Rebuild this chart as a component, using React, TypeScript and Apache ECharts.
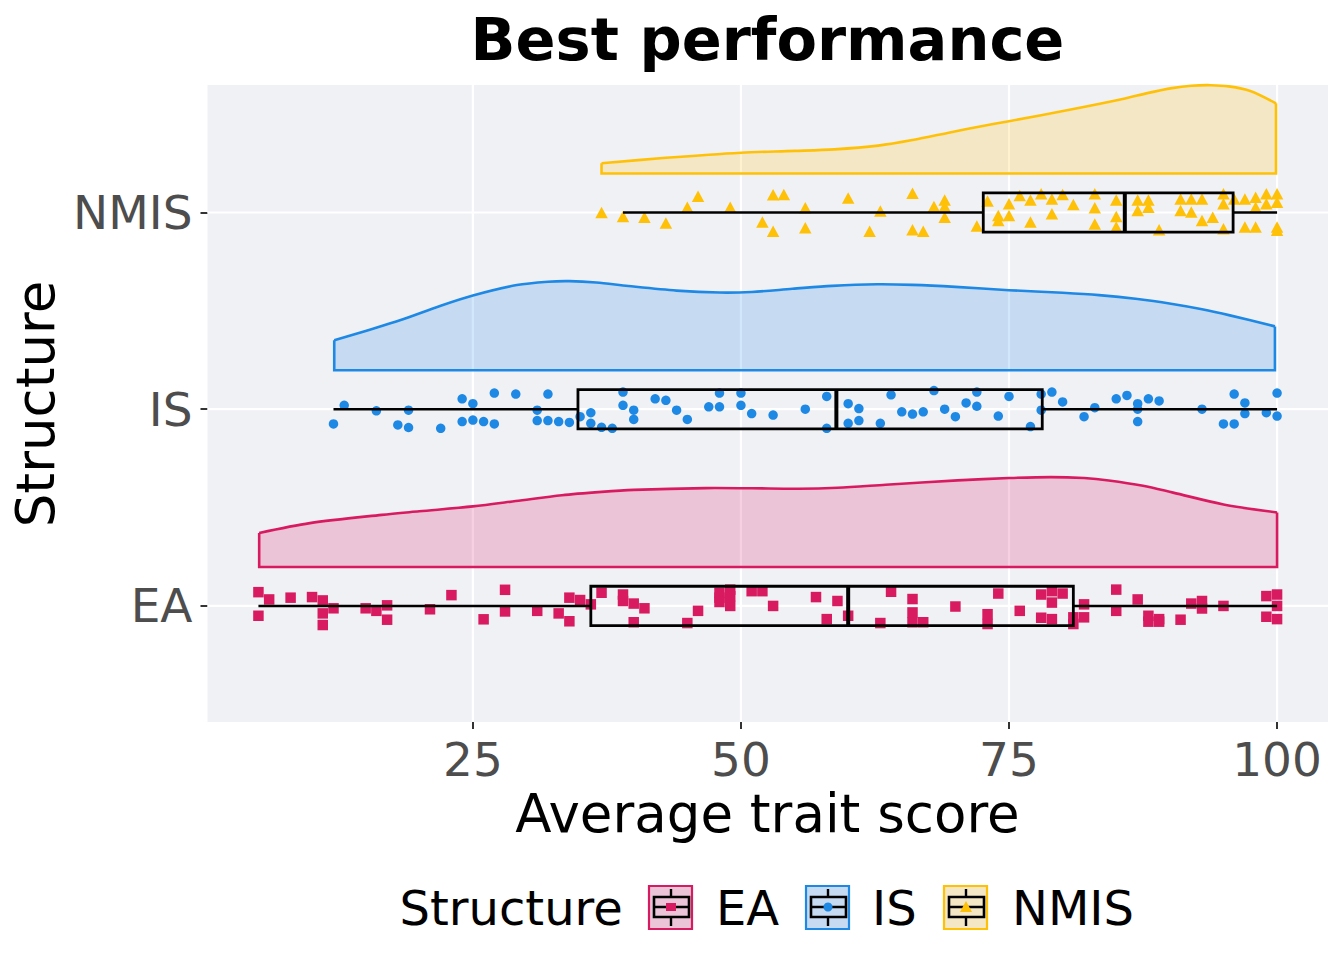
import React, { useEffect, useRef } from "react";
import * as echarts from "echarts";

const CATEGORIES = ["EA", "IS", "NMIS"];
const COLORS = ["#D81B60", "#1E88E5", "#FFC107"];
const FILLS = ["rgba(216,27,96,0.2)", "rgba(30,136,229,0.2)", "rgba(255,193,7,0.2)"];
const SYMBOLS = ["rect", "circle", "triangle"];
const X_TICKS = [25, 50, 75, 100];
const Y_TICKS = [1, 2, 3];

// Individual scores and their vertical jitter (category units)
const EA_SCORE = [5, 6, 8, 10, 11, 12, 5, 11, 11, 15, 16, 17, 17, 21, 23, 28, 28, 26, 31, 33, 34, 34, 35, 36, 37, 39, 39, 40, 41, 40, 45, 46, 48, 49, 49, 48, 51, 52, 53, 57, 59, 58, 60, 63, 64, 66, 66, 66, 67, 70, 73, 73, 74, 76, 78, 78, 79, 80, 79, 79, 81, 81, 82, 82, 85, 85, 87, 88, 89, 91, 92, 93, 93, 95, 99, 100, 99, 100, 100, 88, 89, 49, 48];
const EA_JITTER = [0.07, 0.033, 0.042, 0.045, 0.028, -0.012, -0.05, -0.038, -0.097, -0.012, -0.025, 0.003, -0.07, -0.017, 0.055, 0.082, -0.028, -0.068, -0.025, -0.038, -0.078, 0.042, 0.03, 0.008, 0.067, 0.058, 0.025, 0.012, -0.012, -0.083, -0.087, -0.025, 0.067, 0.083, 0, 0.042, 0.075, 0.075, 0, 0.045, 0.025, -0.067, -0.05, -0.087, 0.072, 0.035, -0.033, -0.083, -0.083, -0.003, -0.042, -0.092, 0.063, -0.025, 0.058, -0.06, 0.075, 0.063, 0.017, -0.067, -0.058, -0.092, 0.008, -0.058, 0.083, -0.025, 0.033, -0.05, -0.067, -0.07, 0.012, 0.025, -0.013, 0, 0.05, 0.058, -0.055, -0.067, 0, -0.08, -0.08, 0.05, 0.02];

const IS_SCORE = [12, 13, 16, 18, 19, 19, 22, 24, 24, 25, 25, 26, 27, 27, 29, 31, 31, 32, 32, 33, 34, 35, 36, 36, 37, 38, 39, 39, 40, 40, 42, 43, 44, 45, 47, 48, 48, 50, 50, 51, 53, 56, 58, 58, 60, 60, 61, 61, 63, 64, 65, 66, 67, 68, 69, 70, 71, 72, 72, 74, 75, 77, 78, 78, 79, 80, 82, 83, 85, 86, 87, 87, 88, 89, 93, 95, 96, 96, 97, 97, 99, 100, 100, 87];
const IS_JITTER = [-0.075, 0.02, -0.008, -0.08, -0.005, -0.093, -0.097, 0.053, -0.063, 0.028, -0.055, -0.063, 0.082, -0.075, 0.077, -0.005, -0.058, 0.077, -0.058, -0.063, -0.067, -0.038, -0.018, -0.072, -0.092, -0.097, 0.087, 0.02, -0.005, -0.052, 0.053, 0.045, -0.005, -0.052, 0.012, 0.012, 0.082, 0.082, 0.02, -0.022, -0.03, 0, 0.065, -0.097, 0.028, -0.072, 0.003, -0.058, -0.072, 0.073, -0.013, -0.025, -0.013, 0.095, 0, -0.038, 0.032, 0.087, 0.015, -0.035, 0.065, -0.088, 0.077, -0.005, 0.087, 0.037, -0.038, 0.008, 0.053, 0.07, 0.028, -0.063, 0.053, 0.042, 0, -0.075, -0.075, 0.077, 0.032, -0.022, -0.018, 0.082, -0.035, 0];

const NMIS_SCORE = [37, 39, 41, 43, 45, 46, 49, 52, 53, 54, 53, 56, 56, 60, 62, 63, 66, 66, 67, 68, 69, 69, 69, 72, 73, 74, 75, 75, 76, 77, 77, 78, 79, 79, 80, 81, 83, 83, 83, 85, 85, 85, 87, 87, 88, 88, 89, 91, 91, 92, 92, 93, 93, 94, 95, 95, 95, 96, 97, 97, 98, 98, 98, 99, 99, 100, 100, 100, 100, 74];
const NMIS_JITTER = [0, -0.02, -0.024, -0.054, 0.027, 0.083, 0.027, -0.049, 0.09, 0.091, -0.095, 0.024, -0.078, 0.074, -0.096, 0.007, 0.098, -0.088, -0.095, 0.03, 0.064, -0.024, 0.03, -0.069, 0.058, -0.041, 0.044, -0.015, 0.086, 0.064, -0.049, 0.095, 0.069, -0.007, 0.091, 0.041, 0.095, 0.024, -0.058, 0.064, -0.02, -0.074, 0.064, 0.01, 0.064, 0.027, -0.088, 0.069, 0.01, 0.069, 0.002, 0.069, -0.041, -0.024, 0.095, 0.044, -0.083, 0.069, 0.069, -0.074, 0.078, 0.027, -0.074, 0.095, 0.044, 0.095, 0.052, -0.074, -0.09, -0.015];

// Density curves: [score, height above the cloud baseline]
const EA_DENSITY = [[5.07, 0.173], [9.8, 0.223], [16.5, 0.265], [20, 0.283], [25, 0.308], [29, 0.335], [33.3, 0.365], [37, 0.382], [40, 0.392], [46.7, 0.401], [51, 0.4], [55.4, 0.398], [59, 0.403], [63.5, 0.418], [70.2, 0.44], [75, 0.452], [78.9, 0.457], [82, 0.452], [84.3, 0.44], [87.5, 0.413], [90.3, 0.378], [95, 0.318], [100, 0.277]];
const IS_DENSITY = [[12.07, 0.152], [15, 0.2], [18.2, 0.254], [22, 0.328], [25, 0.38], [29.1, 0.433], [32, 0.45], [34, 0.453], [36.5, 0.446], [39.5, 0.428], [44, 0.405], [48, 0.395], [51, 0.398], [54.8, 0.414], [58.5, 0.429], [62.7, 0.437], [66, 0.434], [70, 0.424], [75, 0.407], [80, 0.394], [83.4, 0.382], [87, 0.362], [90.1, 0.338], [93, 0.31], [95.6, 0.279], [99.8, 0.223]];
const NMIS_DENSITY = [[37, 0.052], [43, 0.08], [50, 0.106], [55, 0.115], [58.7, 0.123], [62.8, 0.142], [66, 0.17], [69.6, 0.21], [72.3, 0.239], [75, 0.266], [81, 0.328], [85.6, 0.379], [88, 0.41], [90.2, 0.434], [92, 0.446], [93.8, 0.449], [95.5, 0.443], [97.5, 0.42], [99.9, 0.357]];

// Boxplot stats: [lower whisker, Q1, median, Q3, upper whisker]
const EA_BOX = [5, 36, 60, 81, 100];
const IS_BOX = [12, 34.8, 58.9, 78.1, 100];
const NMIS_BOX = [39, 72.6, 85.8, 95.9, 100];

const SCORES = [EA_SCORE, IS_SCORE, NMIS_SCORE];
const JITTERS = [EA_JITTER, IS_JITTER, NMIS_JITTER];
const DENSITIES = [EA_DENSITY, IS_DENSITY, NMIS_DENSITY];
const BOXES = [EA_BOX, IS_BOX, NMIS_BOX];

const FONT = "DejaVu Sans";
const PANEL_BG = "#F0F1F5";
const DENS_OFFSET = 0.198;
const BOX_HALF = 0.1;

function legendKey(i: number, kx: number, ky: number) {
  const cx = kx + 23;
  const cy = ky + 22;
  let pt: any;
  if (i === 0) {
    pt = { type: "rect", shape: { x: cx - 5, y: cy - 4, width: 10, height: 8 }, style: { fill: COLORS[i] } };
  } else if (i === 1) {
    pt = { type: "circle", shape: { cx, cy, r: 4.5 }, style: { fill: COLORS[i] } };
  } else {
    pt = { type: "polygon", shape: { points: [[cx, cy - 6], [cx + 6, cy + 5], [cx - 6, cy + 5]] }, style: { fill: COLORS[i] } };
  }
  return [
    { type: "rect", shape: { x: kx, y: ky, width: 45, height: 45 }, style: { fill: PANEL_BG } },
    { type: "rect", shape: { x: kx + 1, y: ky + 1, width: 43, height: 43 }, style: { fill: FILLS[i], stroke: COLORS[i], lineWidth: 2.2 } },
    { type: "line", shape: { x1: cx, y1: ky + 4, x2: cx, y2: ky + 12 }, style: { stroke: "#000", lineWidth: 2.4 } },
    { type: "line", shape: { x1: cx, y1: ky + 32, x2: cx, y2: ky + 41 }, style: { stroke: "#000", lineWidth: 2.4 } },
    { type: "rect", shape: { x: kx + 6, y: ky + 12, width: 35, height: 20 }, style: { fill: "none", stroke: "#000", lineWidth: 2.6 } },
    { type: "line", shape: { x1: kx + 6, y1: cy, x2: kx + 41, y2: cy }, style: { stroke: "#000", lineWidth: 2.6 } },
    pt,
  ];
}

export default function App() {
  const ref = useRef<HTMLDivElement>(null);

  useEffect(() => {
    if (!ref.current) return;
    const chart = echarts.init(ref.current, undefined, { renderer: "svg" });

    const gridSeries = {
      type: "custom",
      z: 1,
      silent: true,
      data: [[X_TICKS[0], Y_TICKS[0]]],
      renderItem: (params: any, api: any) => {
        const cs = params.coordSys;
        const children: any[] = [];
        X_TICKS.forEach((v) => {
          const p = api.coord([v, 1]);
          children.push({ type: "line", shape: { x1: p[0], y1: cs.y, x2: p[0], y2: cs.y + cs.height }, style: { stroke: "#FFFFFF", lineWidth: 2.2 } });
        });
        Y_TICKS.forEach((v) => {
          const p = api.coord([50, v]);
          children.push({ type: "line", shape: { x1: cs.x, y1: p[1], x2: cs.x + cs.width, y2: p[1] }, style: { stroke: "#FFFFFF", lineWidth: 2.2 } });
        });
        return { type: "group", children };
      },
    };

    const densitySeries = {
      type: "custom",
      z: 2,
      silent: true,
      data: CATEGORIES.map((_, i) => [DENSITIES[i][0][0], i + 1]),
      renderItem: (params: any, api: any) => {
        const g = params.dataIndex;
        const dens = DENSITIES[g];
        const base = g + 1 + DENS_OFFSET;
        const curve = dens.map(([v, h]) => api.coord([v, base + h]));
        const b0 = api.coord([dens[0][0], base]);
        const b1 = api.coord([dens[dens.length - 1][0], base]);
        return {
          type: "group",
          children: [
            { type: "polygon", shape: { points: [b0, ...curve, b1] }, style: { fill: FILLS[g], stroke: "none" } },
            { type: "polyline", shape: { points: curve, smooth: 0.3 }, style: { fill: "none", stroke: COLORS[g], lineWidth: 2.6 } },
            { type: "polyline", shape: { points: [curve[0], b0, b1, curve[curve.length - 1]] }, style: { fill: "none", stroke: COLORS[g], lineWidth: 2.6 } },
          ],
        };
      },
    };

    const pointSeries = CATEGORIES.map((name, i) => ({
      type: "scatter",
      name,
      z: 3,
      silent: true,
      symbol: SYMBOLS[i],
      symbolSize: i === 0 ? 10.5 : i === 1 ? 9.5 : [12.5, 11.5],
      itemStyle: { color: COLORS[i], opacity: 1 },
      data: SCORES[i].map((s, k) => [s, i + 1 + JITTERS[i][k]]),
    }));

    const boxSeries = {
      type: "custom",
      z: 4,
      silent: true,
      data: CATEGORIES.map((_, i) => [BOXES[i][2], i + 1]),
      renderItem: (params: any, api: any) => {
        const g = params.dataIndex;
        const c = g + 1;
        const [mn, q1, md, q3, mx] = BOXES[g];
        const pMin = api.coord([mn, c]);
        const pQ1 = api.coord([q1, c]);
        const pMd = api.coord([md, c]);
        const pQ3 = api.coord([q3, c]);
        const pMax = api.coord([mx, c]);
        const hh = Math.abs(api.size([0, BOX_HALF])[1]);
        const ls = { stroke: "#000000", lineWidth: 2.6 };
        return {
          type: "group",
          children: [
            { type: "line", shape: { x1: pMin[0], y1: pMin[1], x2: pQ1[0], y2: pQ1[1] }, style: ls },
            { type: "line", shape: { x1: pQ3[0], y1: pQ3[1], x2: pMax[0], y2: pMax[1] }, style: ls },
            { type: "rect", shape: { x: pQ1[0], y: pQ1[1] - hh, width: pQ3[0] - pQ1[0], height: 2 * hh }, style: { fill: "none", stroke: "#000000", lineWidth: 2.8 } },
            { type: "line", shape: { x1: pMd[0], y1: pMd[1] - hh, x2: pMd[0], y2: pMd[1] + hh }, style: { stroke: "#000000", lineWidth: 4 } },
          ],
        };
      },
    };

    const legendFont = `48px '${FONT}'`;
    const legendChildren: any[] = [
      { type: "text", x: 399.5, y: 908, style: { text: "Structure", font: legendFont, fill: "#000000", textAlign: "left", textVerticalAlign: "middle" } },
      ...legendKey(0, 648, 885),
      { type: "text", x: 716, y: 908, style: { text: "EA", font: legendFont, fill: "#000000", textAlign: "left", textVerticalAlign: "middle" } },
      ...legendKey(1, 805, 885),
      { type: "text", x: 872, y: 908, style: { text: "IS", font: legendFont, fill: "#000000", textAlign: "left", textVerticalAlign: "middle" } },
      ...legendKey(2, 943, 885),
      { type: "text", x: 1012, y: 908, style: { text: "NMIS", font: legendFont, fill: "#000000", textAlign: "left", textVerticalAlign: "middle" } },
    ];

    const option: any = {
      animation: false,
      backgroundColor: "#FFFFFF",
      grid: { left: 207.5, top: 85, width: 1120.5, height: 637, show: true, backgroundColor: PANEL_BG, borderWidth: 0, containLabel: false },
      xAxis: {
        type: "value",
        min: 0.25,
        max: 104.75,
        axisLine: { show: false },
        splitLine: { show: false },
        axisTick: { show: true, customValues: X_TICKS, length: 7, lineStyle: { color: "#333333", width: 2 } },
        axisLabel: { customValues: X_TICKS, margin: 14, fontSize: 47, color: "#4D4D4D", fontFamily: FONT },
      },
      yAxis: {
        type: "value",
        min: 0.41,
        max: 3.648,
        axisLine: { show: false },
        splitLine: { show: false },
        axisTick: { show: true, customValues: Y_TICKS, length: 7, lineStyle: { color: "#333333", width: 2 } },
        axisLabel: {
          customValues: Y_TICKS,
          margin: 15,
          fontSize: 47,
          color: "#4D4D4D",
          fontFamily: FONT,
          formatter: (v: number) => CATEGORIES[Math.round(v) - 1] ?? "",
        },
      },
      graphic: [
        { type: "text", x: 767.5, y: 39.5, style: { text: "Best performance", font: `bold 59px '${FONT}'`, fill: "#000000", textAlign: "center", textVerticalAlign: "middle" } },
        { type: "text", x: 767.5, y: 813, style: { text: "Average trait score", font: `53px '${FONT}'`, fill: "#000000", textAlign: "center", textVerticalAlign: "middle" } },
        { type: "text", x: 35, y: 404, rotation: Math.PI / 2, style: { text: "Structure", font: `53px '${FONT}'`, fill: "#000000", textAlign: "center", textVerticalAlign: "middle" } },
        ...legendChildren,
      ],
      series: [gridSeries, densitySeries, ...pointSeries, boxSeries],
    };

    chart.setOption(option);
    return () => chart.dispose();
  }, []);

  return <div ref={ref} style={{ position: "absolute", left: 0, top: 0, width: 1344, height: 960 }} />;
}
